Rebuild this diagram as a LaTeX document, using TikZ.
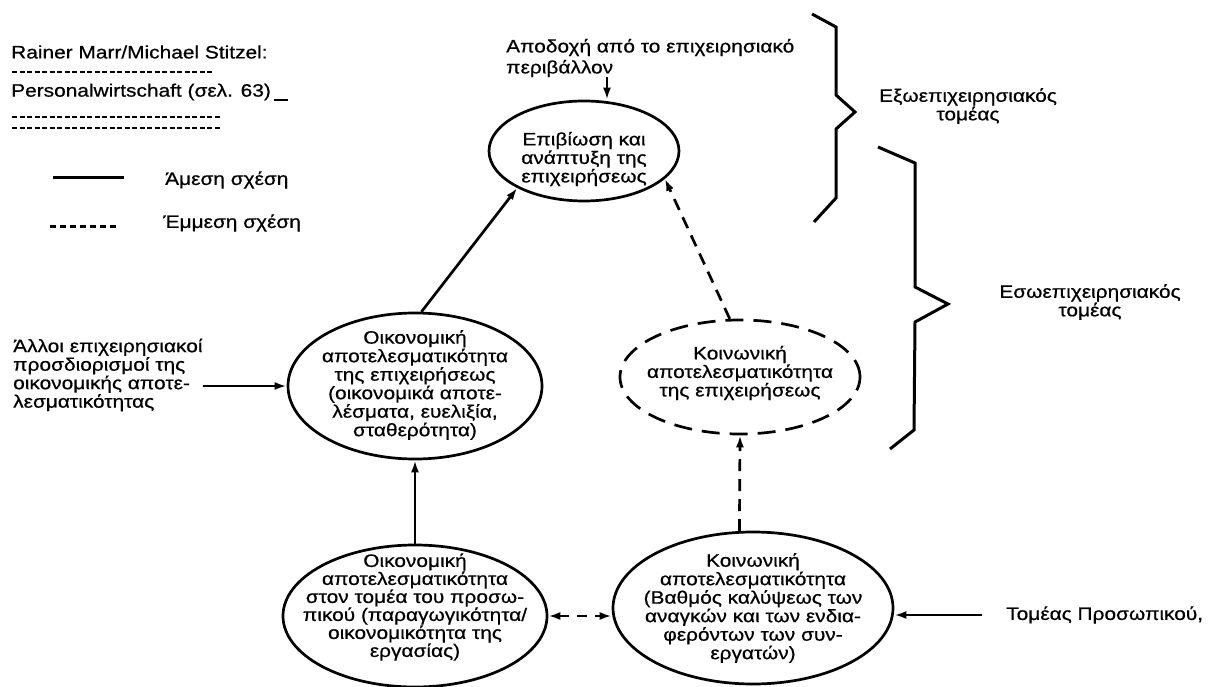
\documentclass[tikz,border=0pt]{standalone}
\usepackage{fontspec}
\setmainfont{Liberation Sans}[FakeStretch=1.16,FakeBold=0.6]
\usetikzlibrary{arrows.meta,calc,shapes.geometric}

\begin{document}
\begin{tikzpicture}[x=1pt,y=-1pt,
  every node/.style={font=\fontsize{18}{18.5}\selectfont, inner sep=0pt},
  ell/.style={draw, ellipse, line width=2.7pt, inner sep=0pt},
  dashell/.style={ell, dash pattern=on 18pt off 10pt},
  txt/.style={align=center},
  ltxt/.style={align=left, anchor=west},
  arr/.style={-{Latex[length=12pt,width=8pt]}, line width=2.7pt},
  darr/.style={arr, dash pattern=on 12pt off 8pt},
  brace/.style={line width=3pt, line join=miter},
  citedash/.style={line width=2pt, dash pattern=on 5pt off 2.5pt},
]
\fill[white] (0,0) rectangle (1208,687);
\useasboundingbox (0,0) rectangle (1208,687);

% citation
\node[ltxt] (author) at (11,52) {Rainer Marr/Michael Stitzel:};
\draw[citedash] (12,72) -- (213,72);
\node[ltxt] (book) at (11,92) {Personalwirtschaft (σελ. 63)};
\draw[line width=1.8pt] ($(book.east)+(3,8)$) -- ++(14,0);
\draw[citedash] (12,117) -- (220,117);
\draw[citedash] (12,128) -- (220,128);

% legend
\coordinate (lgA) at (53,178);
\coordinate (lgB) at (124,178);
\draw[line width=3pt] (lgA) -- (lgB);
\node[ltxt] (lgdirect) at (165,180) {Άμεση σχέση};
\coordinate (lgC) at (50,227);
\coordinate (lgD) at (118,227);
\draw[line width=3pt, dash pattern=on 6pt off 4pt] (lgC) -- (lgD);
\node[ltxt] (lgindirect) at (163,223) {Έμμεση σχέση};

% ellipses
\node[ell, minimum width=190pt, minimum height=100pt] (survive) at (584,151) {};
\node[txt] (survivet) at (584,159) {Επιβίωση και\\ανάπτυξη της\\επιχειρήσεως};

\node[ell, minimum width=254pt, minimum height=146pt] (ecoF) at (415,386) {};
\node[txt] (ecoFt) at (415,385) {Οικονομική\\αποτελεσματικότητα\\της επιχειρήσεως\\(οικονομικά αποτε-\\λέσματα, ευελιξία,\\σταθερότητα)};

\node[dashell, minimum width=240pt, minimum height=114pt] (socF) at (740,377) {};
\node[txt] (socFt) at (740,373) {Κοινωνική\\αποτελεσματικότητα\\της επιχειρήσεως};

\node[ell, minimum width=264pt, minimum height=142pt] (ecoP) at (415,616) {};
\node[txt, font=\fontsize{18}{18}\selectfont] (ecoPt) at (415,607) {Οικονομική\\αποτελεσματικότητα\\στον τομέα του προσω-\\πικού (παραγωγικότητα/\\οικονομικότητα της\\εργασίας)};

\node[ell, minimum width=280pt, minimum height=152pt] (socP) at (753,608) {};
\node[txt] (socPt) at (753,608) {Κοινωνική\\αποτελεσματικότητα\\(Βαθμός καλύψεως των\\αναγκών και των ενδια-\\φερόντων των συν-\\εργατών)};

% outside texts
\node[ltxt, font=\fontsize{18}{21}\selectfont] (accept) at (506,58) {Αποδοχή από το επιχειρησιακό\\περιβάλλον};
\coordinate (acceptin) at (607,77);
\node[ltxt] (others) at (13,375) {Άλλοι επιχειρησιακοί\\προσδιορισμοί της\\οικονομικής αποτε-\\λεσματικότητας};
\node[ltxt] (persT) at (1006,615) {Τομέας Προσωπικού,};

% connectors
\draw[arr] (acceptin) -- (acceptin |- survive.north);
\draw[arr] (ecoF.85) -- (survive.209);
\draw[darr] (socF.100) -- (survive.341);
\draw[arr] (ecoP.north) -- (ecoF.south);
\draw[darr] (socP.100) -- (socF.south);
\draw[arr] (others.east |- ecoF.west) -- (ecoF.west);
\draw[arr, shorten <=24pt] (persT.west) -- (persT.west -| socP.east);
\draw[{Latex[length=12pt,width=8pt]}-{Latex[length=12pt,width=8pt]}, line width=2.7pt, dash pattern=on 10pt off 8pt]
  (ecoP.east) -- (ecoP.east -| socP.west);

% braces
\draw[brace] (812,14) -- (836,27) -- (836,95) -- (855,112) -- (836,129) -- (836,198) -- (814,222);
\node[txt] (extsec) at (968,106) {Εξωεπιχειρησιακός\\τομέας};
\draw[brace] (878,147) -- (915,163) -- (915,287) -- (948,304) -- (915,322) -- (914,430) -- (890,449);
\node[txt] (intsec) at (1090,302) {Εσωεπιχειρησιακός\\τομέας};
\end{tikzpicture}
\end{document}
